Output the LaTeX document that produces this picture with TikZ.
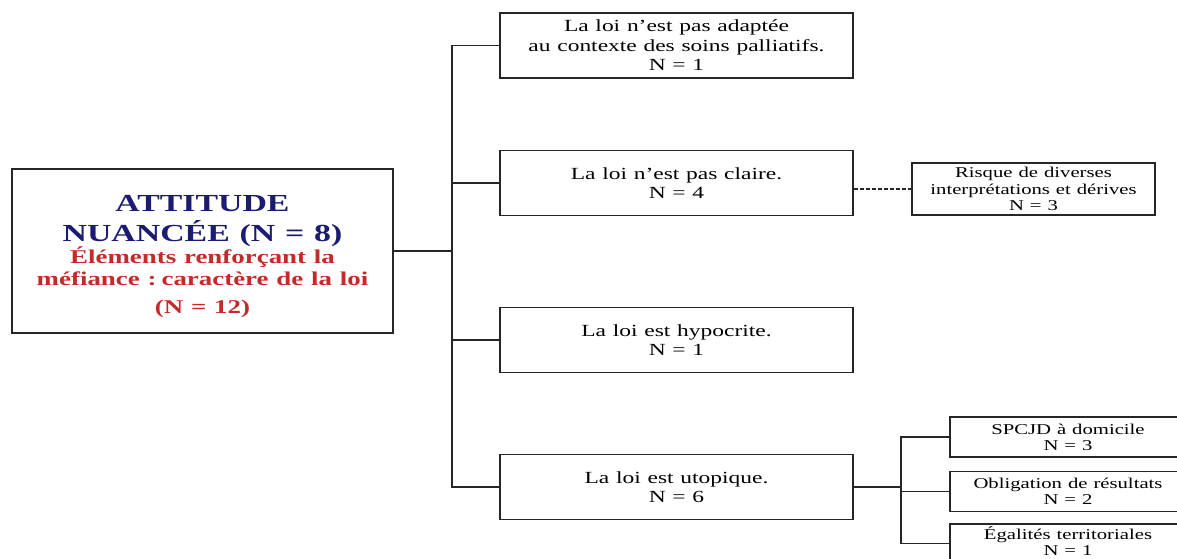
\documentclass[tikz,border=0pt]{standalone}
\usepackage{fontspec}
\setmainfont[FakeStretch=1.38,WordSpace=1.15]{Liberation Serif}
\usetikzlibrary{positioning}
\definecolor{titleblue}{HTML}{1B1B72}
\definecolor{titlered}{HTML}{C42A2A}

\tikzset{
  box/.style={draw=black!85, line width=1.4pt, rectangle, inner sep=0pt, align=center},
  midbox/.style={box, minimum width=353pt, minimum height=65pt, font=\fontsize{17}{19.5}\selectfont},
  smallbox/.style={box, minimum width=236pt, minimum height=40pt, font=\fontsize{15}{16}\selectfont},
  link/.style={line width=1.2pt, draw=black!85}
}

\begin{document}
\begin{tikzpicture}[x=1pt,y=-1pt]
\useasboundingbox (0,0) rectangle (1177,559);
\node[box, minimum width=381pt, minimum height=164pt, text width=375pt, font=\bfseries] at (202.5,251) (root)
  {{\color{titleblue}\fontsize{24.5}{30}\selectfont\spaceskip=.4em\relax \rule{0pt}{27pt}ATTITUDE\\ NUANCÉE (N = 8)\par}
   {\color{titlered}\fontsize{19.5}{22}\selectfont\spaceskip=.4em\relax Éléments renforçant la\\ méfiance : caractère de la loi\\[6pt] (N = 12)\par}};
\node[midbox] at (676.5,45.5) (c1) {La loi n’est pas adaptée\\ au contexte des soins palliatifs.\\ N = 1};
\node[midbox] at (676.5,183) (c2) {La loi n’est pas claire.\\ N = 4};
\node[midbox] at (676.5,340) (c3) {La loi est hypocrite.\\ N = 1};
\node[midbox] at (676.5,487) (c4) {La loi est utopique.\\ N = 6};
\node[box, minimum width=243pt, minimum height=52pt, font=\fontsize{15}{16.5}\selectfont] at (1033.5,189) (r1) {Risque de diverses\\ interprétations et dérives\\ N = 3};
\node[smallbox] at (1068,437) (u1) {SPCJD à domicile\\ N = 3};
\node[smallbox, below=13pt of u1] (u2) {Obligation de résultats\\ N = 2};
\node[smallbox, below=11pt of u2] (u3) {Égalités territoriales\\ N = 1\rule[-6pt]{0pt}{6pt}};
\coordinate (bus) at (452,251);
\coordinate (fork) at (901,488);
\draw[link] (root.east) -- (root.east -| bus);
\draw[link] (c1.west) -- (c1.west -| bus) -- (c4.west -| bus) -- (c4.west);
\draw[link] (c2.west) -- (c2.west -| bus);
\draw[link] (c3.west) -- (c3.west -| bus);
\draw[link, dash pattern=on 4pt off 2pt] (r1.west -| c2.east) -- (r1.west);
\draw[link] (c4.east) -- (c4.east -| fork);
\draw[link] (u1.west) -- (u1.west -| fork) -- (u3.west -| fork) -- (u3.west);
\draw[link] (u2.west) -- (u2.west -| fork);
\end{tikzpicture}
\end{document}
